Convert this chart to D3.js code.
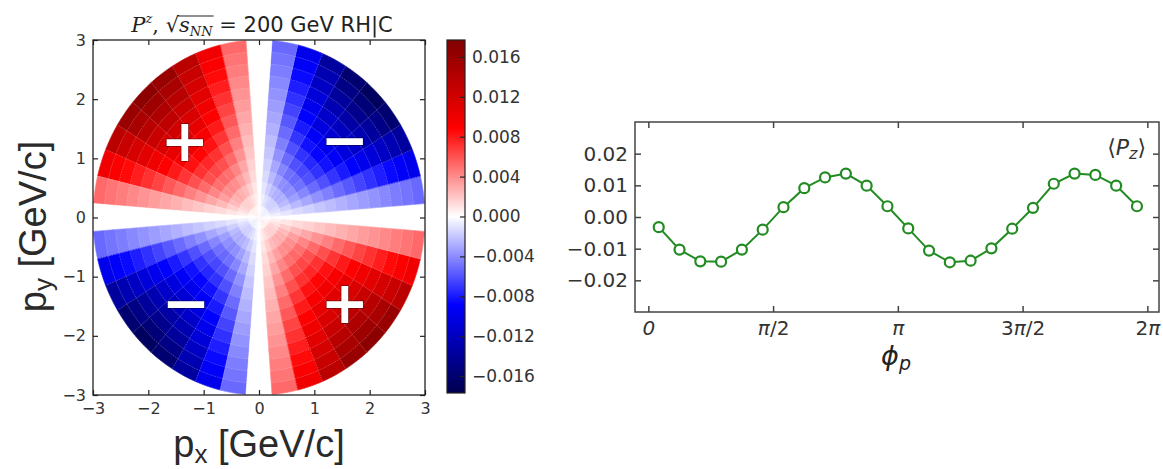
<!DOCTYPE html>
<html>
<head>
<meta charset="utf-8">
<script src="https://cdn.jsdelivr.net/npm/d3@7"></script>
<style>
  body { margin: 0; background: #fff; }
  svg { display: block; }
  .tick text { fill: #333; }
</style>
</head>
<body>
<script>
// ---- data ----
let pxTicks = [-3, -2, -1, 0, 1, 2, 3];
let pyTicks = [-3, -2, -1, 0, 1, 2, 3];
let cbTicks = [0.016, 0.012, 0.008, 0.004, 0.000, -0.004, -0.008, -0.012, -0.016];
let vmax = 0.0177;

// radial bins (GeV/c) and amplitude of Pz in each ring
let ringEdges = [0, 0.2, 0.4, 0.6, 0.8, 1.0, 1.2, 1.4, 1.6, 1.8, 2.0, 2.2, 2.4, 2.6, 2.8, 3.0];
let ringAmp = [0.0006, 0.0017, 0.0029, 0.0041, 0.0052, 0.0064, 0.0075, 0.0087, 0.0098, 0.0110,
               0.0121, 0.0133, 0.0145, 0.0156, 0.0168];

// azimuthal bins (degrees, 9 deg wide) and their sign/shape
let phiBins = [0, 9, 18, 27, 36, 45, 54, 63, 72, 81, 90, 99, 108, 117, 126, 135, 144, 153, 162, 171,
               180, 189, 198, 207, 216, 225, 234, 243, 252, 261, 270, 279, 288, 297, 306, 315, 324, 333, 342, 351];
let phiShape = [0, -0.31, -0.59, -0.81, -0.95, -1.00, -0.95, -0.81, -0.59, -0.31,
                0, 0.31, 0.59, 0.81, 0.95, 1.00, 0.95, 0.81, 0.59, 0.31,
                0, -0.31, -0.59, -0.81, -0.95, -1.00, -0.95, -0.81, -0.59, -0.31,
                0, 0.31, 0.59, 0.81, 0.95, 1.00, 0.95, 0.81, 0.59, 0.31];

let signs = [
  { px: -1.34, py: 1.29, s: "+" },
  { px: 1.55, py: 1.31, s: "\u2212" },
  { px: -1.32, py: -1.44, s: "\u2212" },
  { px: 1.55, py: -1.44, s: "+" }
];

// right panel: <Pz> vs phi_p
let phiDeg = [7.5, 22.5, 37.5, 52.5, 67.5, 82.5, 97.5, 112.5, 127.5, 142.5, 157.5, 172.5,
              187.5, 202.5, 217.5, 232.5, 247.5, 262.5, 277.5, 292.5, 307.5, 322.5, 337.5, 352.5];
let pzMean = [-0.0032, -0.0103, -0.0140, -0.0141, -0.0103, -0.0040, 0.0031, 0.0091, 0.0125, 0.0137, 0.0099, 0.0034,
              -0.0036, -0.0106, -0.0143, -0.0138, -0.0099, -0.0037, 0.0029, 0.0105, 0.0137, 0.0133, 0.0099, 0.0034];
let pzYTicks = [-0.02, -0.01, 0.00, 0.01, 0.02];
let phiTicks = [0, Math.PI / 2, Math.PI, 3 * Math.PI / 2, 2 * Math.PI];
let phiTickLabels = [["", "0", ""], ["", "\u03C0", "/2"], ["", "\u03C0", ""], ["3", "\u03C0", "/2"], ["2", "\u03C0", ""]];

let W = 1163, H = 469;
let tickFont = "'DejaVu Sans', sans-serif";
let labelFont = "'Liberation Sans', 'Noto Sans', sans-serif";

let svg = d3.select("body").append("svg")
    .attr("width", W)
    .attr("height", H);

// ---------------- left panel ----------------
let x = d3.scaleLinear().domain([-3, 3]).range([93, 425]);
let y = d3.scaleLinear().domain([-3, 3]).range([395, 40]);

let color = d3.scaleLinear()
    .domain([-vmax, -vmax / 2, 0, vmax / 2, vmax])
    .range(["rgb(0,0,77)", "rgb(0,0,255)", "rgb(255,255,255)", "rgb(255,0,0)", "rgb(128,0,0)"])
    .clamp(true);

svg.append("clipPath").attr("id", "clipL")
    .append("rect")
    .attr("x", x(-3)).attr("y", y(3))
    .attr("width", x(3) - x(-3)).attr("height", y(-3) - y(3));

let cells = [];
phiBins.forEach(function (c, k) {
    ringAmp.forEach(function (a, i) {
        cells.push({ r0: ringEdges[i], r1: ringEdges[i + 1], a0: c - 4.5, a1: c + 4.5, v: a * phiShape[k] });
    });
});

function cellPath(d) {
    let pts = [];
    let steps = 4;
    for (let s = 0; s <= steps; s++) {
        let a = (d.a0 + (d.a1 - d.a0) * s / steps) * Math.PI / 180;
        pts.push([x(d.r1 * Math.cos(a)), y(d.r1 * Math.sin(a))]);
    }
    for (let s = steps; s >= 0; s--) {
        let a = (d.a0 + (d.a1 - d.a0) * s / steps) * Math.PI / 180;
        pts.push([x(d.r0 * Math.cos(a)), y(d.r0 * Math.sin(a))]);
    }
    return "M" + pts.map(p => p.join(",")).join("L") + "Z";
}

let heat = svg.append("g").attr("clip-path", "url(#clipL)");
heat.selectAll("path.cell")
    .data(cells)
    .enter().append("path")
    .attr("class", "cell")
    .attr("d", cellPath)
    .attr("fill", d => color(d.v))
    .attr("stroke", d => color(d.v))
    .attr("stroke-width", 0.6);

// faint dotted bin edges
heat.selectAll("path.grid")
    .data(cells)
    .enter().append("path")
    .attr("class", "grid")
    .attr("d", cellPath)
    .attr("fill", "none")
    .attr("stroke", "#fff")
    .attr("stroke-opacity", 0.22)
    .attr("stroke-width", 0.6)
    .attr("stroke-dasharray", "1.2,1.5");

// + / - signs
svg.selectAll("text.sign")
    .data(signs)
    .enter().append("text")
    .attr("class", "sign")
    .attr("x", d => x(d.px))
    .attr("y", d => y(d.py) + 20)
    .attr("text-anchor", "middle")
    .attr("font-family", "'DejaVu Sans', sans-serif")
    .attr("font-weight", "bold")
    .attr("font-size", 58)
    .attr("fill", "#fff")
    .attr("stroke", "rgba(0,0,0,0.45)")
    .attr("stroke-width", 1.5)
    .attr("paint-order", "stroke")
    .text(d => d.s);

// axes (ticks pointing inward)
function styleAxis(g, size) {
    g.select(".domain").remove();
    g.selectAll(".tick line").attr("stroke", "#222").attr("stroke-width", 1.2);
    g.selectAll(".tick text").attr("font-family", tickFont).attr("font-size", size);
}

svg.append("g").attr("transform", "translate(0," + y(-3) + ")")
    .call(d3.axisBottom(x).tickValues(pxTicks).tickSize(-5).tickPadding(8).tickFormat(d3.format("d")))
    .call(styleAxis, 16);
svg.append("g").attr("transform", "translate(0," + y(3) + ")")
    .call(d3.axisTop(x).tickValues(pxTicks).tickSize(-5).tickFormat(""))
    .call(styleAxis, 16);
svg.append("g").attr("transform", "translate(" + x(-3) + ",0)")
    .call(d3.axisLeft(y).tickValues(pyTicks).tickSize(-5).tickPadding(7).tickFormat(d3.format("d")))
    .call(styleAxis, 16);
svg.append("g").attr("transform", "translate(" + x(3) + ",0)")
    .call(d3.axisRight(y).tickValues(pyTicks).tickSize(-5).tickFormat(""))
    .call(styleAxis, 16);

svg.append("rect")
    .attr("x", x(-3)).attr("y", y(3))
    .attr("width", x(3) - x(-3)).attr("height", y(-3) - y(3))
    .attr("fill", "none").attr("stroke", "#222").attr("stroke-width", 1.3);

// title built from pieces
let serif = "'DejaVu Serif', serif";
let titlePieces = [
    { t: "P", f: serif, s: 21, st: "italic", dy: 0 },
    { t: "z", f: serif, s: 13, st: "italic", dy: -9 },
    { t: ", ", f: serif, s: 21, st: "normal", dy: 0 },
    { t: "\u221A", f: serif, s: 21, st: "normal", dy: 0 },
    { t: "s", f: serif, s: 21, st: "italic", dy: 0, bar: true },
    { t: "NN", f: serif, s: 13, st: "italic", dy: 4, bar: true },
    { t: " = ", f: serif, s: 21, st: "normal", dy: 0 },
    { t: "200 GeV RH|C", f: tickFont, s: 21, st: "normal", dy: 0 }
];
let title = svg.append("g");
let cur = 0, barStart = null, barEnd = null;
titlePieces.forEach(function (p) {
    let t = title.append("text")
        .attr("x", cur).attr("y", p.dy)
        .attr("xml:space", "preserve")
        .style("white-space", "pre")
        .attr("font-family", p.f).attr("font-size", p.s).attr("font-style", p.st)
        .attr("fill", "#222")
        .text(p.t);
    let w = t.node().getComputedTextLength();
    if (p.bar) {
        if (barStart === null) barStart = cur;
        barEnd = cur + w;
    }
    cur += w;
});
title.append("line")
    .attr("x1", barStart - 1).attr("x2", barEnd + 1)
    .attr("y1", -16).attr("y2", -16)
    .attr("stroke", "#222").attr("stroke-width", 1.1);
title.attr("transform", "translate(" + ((x(-3) + x(3)) / 2 - cur / 2 + 3) + ",32)");

// axis labels
let xl = svg.append("text")
    .attr("x", (x(-3) + x(3)) / 2).attr("y", 457)
    .attr("text-anchor", "middle")
    .attr("font-family", labelFont).attr("font-size", 38).attr("fill", "#2a2a2a");
xl.append("tspan").text("p");
xl.append("tspan").attr("font-size", 26).attr("dy", 6).text("x");
xl.append("tspan").attr("dy", -6).text(" [GeV/c]");

let yl = svg.append("text")
    .attr("transform", "translate(46," + ((y(-3) + y(3)) / 2 + 9) + ") rotate(-90)")
    .attr("text-anchor", "middle")
    .attr("font-family", labelFont).attr("font-size", 38).attr("fill", "#2a2a2a");
yl.append("tspan").text("p");
yl.append("tspan").attr("font-size", 26).attr("dy", 6).text("y");
yl.append("tspan").attr("dy", -6).text(" [GeV/c]");

// colorbar
let cbX = 447, cbW = 18;
let cbY = d3.scaleLinear().domain([-vmax, vmax]).range([393, 40]);
let grad = svg.append("defs").append("linearGradient")
    .attr("id", "cbgrad").attr("x1", 0).attr("y1", 1).attr("x2", 0).attr("y2", 0);
color.domain().forEach(function (v, i) {
    grad.append("stop")
        .attr("offset", (v + vmax) / (2 * vmax))
        .attr("stop-color", color.range()[i]);
});
svg.append("rect")
    .attr("x", cbX).attr("y", cbY(vmax))
    .attr("width", cbW).attr("height", cbY(-vmax) - cbY(vmax))
    .attr("fill", "url(#cbgrad)")
    .attr("stroke", "#222").attr("stroke-width", 1.2);
svg.append("g").attr("transform", "translate(" + (cbX + cbW) + ",0)")
    .call(d3.axisRight(cbY).tickValues(cbTicks).tickSize(-5).tickPadding(7).tickFormat(d3.format(".3f")))
    .call(styleAxis, 17);

// ---------------- right panel ----------------
let xr = d3.scaleLinear().domain([-0.168, 6.43]).range([635, 1159]);
let yr = d3.scaleLinear().domain([-0.03, 0.03]).range([312, 122]);

function styleAxisR(g) {
    g.select(".domain").remove();
    g.selectAll(".tick line").attr("stroke", "#444").attr("stroke-width", 1.5);
    g.selectAll(".tick text").attr("font-family", tickFont).attr("font-size", 20);
}

svg.append("g").attr("transform", "translate(0," + yr(-0.03) + ")")
    .call(d3.axisBottom(xr).tickValues(phiTicks).tickSize(-6).tickPadding(5).tickFormat(""))
    .call(styleAxisR)
    .selectAll(".tick text")
    .each(function (d, i) {
        let t = d3.select(this).attr("dy", "0.9em");
        phiTickLabels[i].forEach(function (part, j) {
            if (part) t.append("tspan").attr("font-style", j === 1 ? "italic" : "normal").text(part);
        });
    });
svg.append("g").attr("transform", "translate(0," + yr(0.03) + ")")
    .call(d3.axisTop(xr).tickValues(phiTicks).tickSize(-6).tickFormat(""))
    .call(styleAxisR);
svg.append("g").attr("transform", "translate(" + xr.range()[0] + ",0)")
    .call(d3.axisLeft(yr).tickValues(pzYTicks).tickSize(-6).tickPadding(7).tickFormat(d3.format(".2f")))
    .call(styleAxisR);
svg.append("g").attr("transform", "translate(" + xr.range()[1] + ",0)")
    .call(d3.axisRight(yr).tickValues(pzYTicks).tickSize(-6).tickFormat(""))
    .call(styleAxisR);

svg.append("rect")
    .attr("x", xr.range()[0]).attr("y", yr(0.03))
    .attr("width", xr.range()[1] - xr.range()[0]).attr("height", yr(-0.03) - yr(0.03))
    .attr("fill", "none").attr("stroke", "#444").attr("stroke-width", 1.5);

let pts = phiDeg.map((p, i) => ({ phi: p * Math.PI / 180, v: pzMean[i] }));
let green = "#228b22";

svg.append("path")
    .datum(pts)
    .attr("fill", "none")
    .attr("stroke", green)
    .attr("stroke-width", 2)
    .attr("d", d3.line().x(d => xr(d.phi)).y(d => yr(d.v)));

svg.selectAll(".dot")
    .data(pts)
    .enter().append("circle")
    .attr("class", "dot")
    .attr("cx", d => xr(d.phi))
    .attr("cy", d => yr(d.v))
    .attr("r", 5)
    .attr("fill", "#fff")
    .attr("stroke", green)
    .attr("stroke-width", 2.2);

// <Pz> annotation
let ann = svg.append("text")
    .attr("x", 1146).attr("y", 155)
    .attr("text-anchor", "end")
    .attr("font-family", tickFont).attr("font-size", 22).attr("fill", "#333");
ann.append("tspan").text("\u27E8");
ann.append("tspan").attr("font-style", "italic").text("P");
ann.append("tspan").attr("font-style", "italic").attr("font-size", 16).attr("dy", 4).text("z");
ann.append("tspan").attr("dy", -4).text("\u27E9");

// phi_p axis label
let pl = svg.append("text")
    .attr("x", 896).attr("y", 365)
    .attr("text-anchor", "middle")
    .attr("font-family", tickFont).attr("font-size", 27).attr("fill", "#222")
    .attr("font-style", "italic");
pl.append("tspan").text("\u03D5");
pl.append("tspan").attr("font-size", 19).attr("dy", 5).text("p");
</script>
</body>
</html>
